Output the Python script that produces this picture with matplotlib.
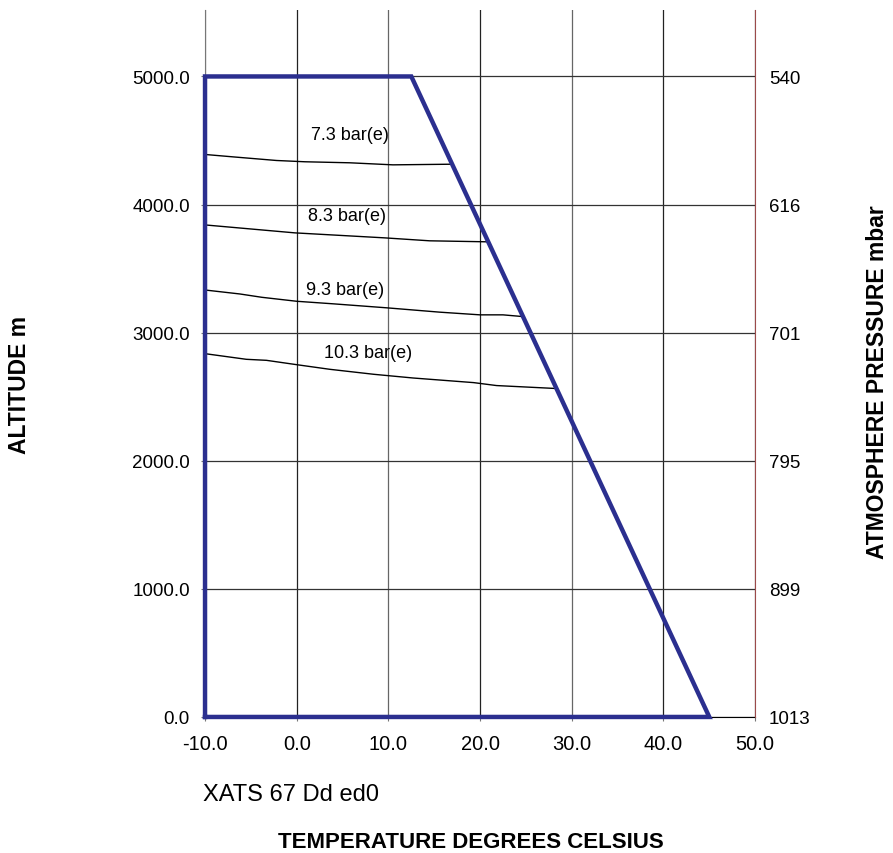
import matplotlib
matplotlib.use('Agg')
import matplotlib.pyplot as plt

plt.rcParams['font.family'] = ['Liberation Sans', 'DejaVu Sans']

# 工作範圍邊界 (溫度, 高度)
envelope_temp = [-10.0, -10.0, 12.5, 45.0, -10.0]
envelope_alt = [0, 5000, 5000, 0, 0]

# 各壓力曲線
curves = {
    '7.3 bar(e)': ([-10.0, -6.9, -2.2, 0.9, 5.8, 10.5, 16.9],
                   [4391, 4372, 4344, 4334, 4326, 4310, 4315]),
    '8.3 bar(e)': ([-10.0, -0.2, 9.6, 14.5, 20.9],
                   [3841, 3779, 3740, 3717, 3709]),
    '9.3 bar(e)': ([-10.0, -6.2, -3.8, 0.0, 4.0, 9.8, 15.6, 20.0, 22.5, 24.6],
                   [3333, 3302, 3276, 3245, 3225, 3194, 3160, 3139, 3139, 3126]),
    '10.3 bar(e)': ([-10.0, -5.5, -3.3, 0.0, 3.6, 8.4, 12.7, 19.3, 21.8, 28.3],
                    [2836, 2792, 2784, 2750, 2714, 2675, 2646, 2610, 2587, 2564]),
}
label_pos = {
    '7.3 bar(e)': (5.8, 4549),
    '8.3 bar(e)': (5.5, 3911),
    '9.3 bar(e)': (5.3, 3336),
    '10.3 bar(e)': (7.8, 2846),
}

x_ticks = [-10, 0, 10, 20, 30, 40, 50]
alt_ticks = [0, 1000, 2000, 3000, 4000, 5000]
pressure_labels = ['1013', '899', '795', '701', '616', '540']

fig = plt.figure(figsize=(8.93, 8.54), dpi=100)
ax = fig.add_axes([0.2296, 0.1593, 0.616, 0.828])
ax.set_xlim(-10, 50)
ax.set_ylim(0, 5520)

# 網格
for i, xv in enumerate(x_ticks):
    ax.axvline(xv, color='#222222' if i % 2 else '#666666', lw=0.9, zorder=1)
for yv in alt_ticks:
    ax.axhline(yv, color='#333333', lw=0.9, zorder=1)

for name, (t, a) in curves.items():
    ax.plot(t, a, color='black', lw=1.0, zorder=2)
    lx, ly = label_pos[name]
    ax.text(lx, ly, name, ha='center', va='center', fontsize=13)

ax.plot(envelope_temp, envelope_alt, color='#2b2f8f', lw=3.2, zorder=3,
        solid_joinstyle='miter', clip_on=False)

for s in ['top', 'right']:
    ax.spines[s].set_visible(False)
ax.spines['left'].set_color('#777777')
ax.spines['bottom'].set_color('black')

ax.set_xticks(x_ticks)
ax.set_xticklabels(['%.1f' % v for v in x_ticks])
ax.set_yticks(alt_ticks)
ax.set_yticklabels(['%.1f' % v for v in alt_ticks])
ax.tick_params(axis='both', length=3, width=0.8, color='#777777', labelsize=13.5)
ax.tick_params(axis='x', pad=9, labelsize=14.5)
ax.tick_params(axis='y', pad=8)

ax2 = ax.twinx()
ax2.set_ylim(ax.get_ylim())
ax2.set_yticks(alt_ticks)
ax2.set_yticklabels(pressure_labels)
ax2.tick_params(axis='y', length=0, labelsize=13.5, pad=10)
for s in ['top', 'left', 'bottom']:
    ax2.spines[s].set_visible(False)
ax2.spines['right'].set_color('#9b4a4a')

fig.text(0.227, 0.069, 'XATS 67 Dd ed0', fontsize=17, ha='left', va='center')
fig.text(0.527, 0.014, 'TEMPERATURE DEGREES CELSIUS', fontsize=16, ha='center',
         va='center', fontweight='bold')
fig.text(0.022, 0.549, 'ALTITUDE m', fontsize=16.5, rotation=90, ha='center',
         va='center', fontweight='bold')
fig.text(0.983, 0.552, 'ATMOSPHERE PRESSURE mbar', fontsize=16.5, rotation=90,
         ha='center', va='center', fontweight='bold')

plt.savefig('out.png', dpi=100)
